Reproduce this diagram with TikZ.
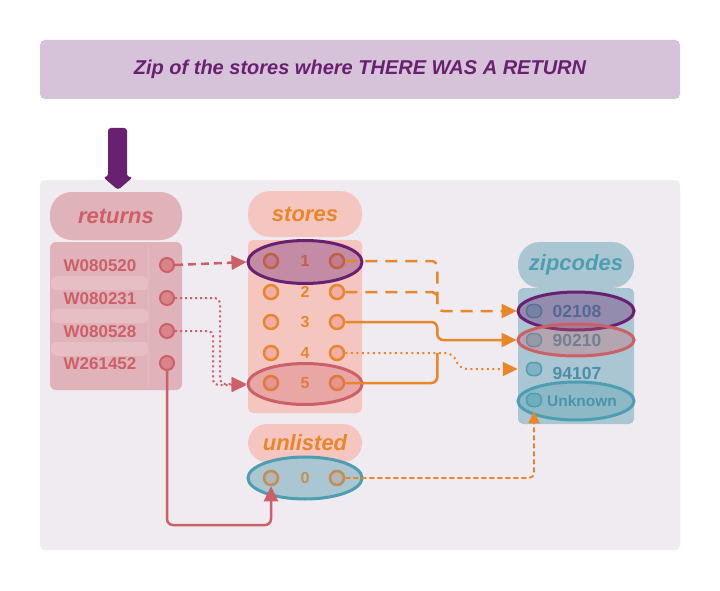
\documentclass[tikz,border=0pt]{standalone}
\usepackage{fontspec}
\setmainfont{Liberation Sans}
\usetikzlibrary{arrows.meta,shapes.geometric,calc}
\definecolor{purp}{HTML}{6A2070}
\definecolor{titlebg}{HTML}{D6C3D9}
\definecolor{panel}{HTML}{F0EAF1}
\definecolor{retbg}{HTML}{E0B2B9}
\definecolor{retband}{HTML}{E6BEC4}
\definecolor{red}{HTML}{CC5F68}
\definecolor{redfill}{HTML}{D9838B}
\definecolor{storebg}{HTML}{F5C6C0}
\definecolor{orng}{HTML}{E8862A}
\definecolor{storefill}{HTML}{F2ADA4}
\definecolor{zipbg}{HTML}{AAC6D2}
\definecolor{teal}{HTML}{4D9EB0}
\definecolor{ziptxt}{HTML}{4A8FA8}
\definecolor{zipfill}{HTML}{80B4C4}
\definecolor{tan}{HTML}{C09050}
\definecolor{grayfill}{HTML}{B4B6BC}
\tikzset{
  hdr/.style={rounded corners=22pt,inner sep=0pt},
  hdrtxt/.style={font=\fontsize{22}{22}\selectfont\bfseries\itshape},
  rdot/.style={circle,draw=red,fill=redfill,line width=2pt,minimum size=14pt,inner sep=0pt},
  sdot/.style={circle,draw=orng,fill=storefill,line width=2.5pt,minimum size=14pt,inner sep=0pt},
  udot/.style={circle,draw=tan,fill=grayfill,line width=2.5pt,minimum size=14pt,inner sep=0pt},
  zdot/.style={rounded corners=6pt,rectangle,draw=teal,fill=zipfill,line width=1.5pt,minimum width=15pt,minimum height=13pt,inner sep=0pt},
  rtxt/.style={text=red,font=\fontsize{17}{17}\selectfont\bfseries},
  stxt/.style={text=orng,font=\fontsize{16}{16}\selectfont\bfseries},
  ztxt/.style={text=ziptxt,font=\fontsize{17.5}{17.5}\selectfont\bfseries},
  sel/.style={ellipse,line width=3pt,minimum width=114pt,inner sep=0pt},
  tip/.style={-{Triangle[length=15pt,width=14pt]}},
  rdash/.style={draw=red,line width=2.5pt,dash pattern=on 8pt off 5pt},
  rdots/.style={draw=red,line width=2pt,dash pattern=on 2pt off 3pt,rounded corners=5pt},
  osolid/.style={draw=orng,line width=2.5pt,rounded corners=6pt},
  odash/.style={draw=orng,line width=2.5pt,dash pattern=on 12pt off 8pt,rounded corners=6pt},
  odots/.style={draw=orng,line width=2pt,dash pattern=on 2pt off 3.5pt,rounded corners=8pt},
}
\begin{document}
\begin{tikzpicture}[x=1pt,y=-1pt]
\useasboundingbox[fill=white] (0,0) rectangle (720,591);
% title
\node[fill=titlebg,rounded corners=5pt,minimum width=640pt,minimum height=59pt,inner sep=0pt,
  text=purp,font=\fontsize{20}{20}\selectfont\bfseries\itshape] (title) at (360,69.5)
  {Zip of the stores where THERE WAS A RETURN};
% panel
\node[fill=panel,rounded corners=5pt,minimum width=640pt,minimum height=370pt,inner sep=0pt] (panel) at (360,365) {};
% big arrow
\fill[purp,rounded corners=3pt] (108,128) -- (127,128) -- (127,177) -- (133,177) -- (118,190) -- (103,177) -- (108,177) -- cycle;
% returns
\node[hdr,fill=retbg,minimum width=132pt,minimum height=48pt,hdrtxt,text=red] (rethdr) at (116,216) {returns};
\node[fill=retbg,rounded corners=6pt,minimum width=132pt,minimum height=148pt,inner sep=0pt] (retbody) at (116,316) {};
\foreach \yy in {283,316,349}{\fill[retband,rounded corners=5pt] (51,\yy-7) rectangle (148,\yy+7);}
\draw[retband!70!retbg,line width=1pt] (148,243) -- (148,389);
\node[rtxt] (rt1) at (100,265.5) {W080520};
\node[rtxt] (rt2) at (100,298.5) {W080231};
\node[rtxt] (rt3) at (100,331.5) {W080528};
\node[rtxt] (rt4) at (100,364) {W261452};
\node[rdot] (r1) at (167,265) {};
\node[rdot] (r2) at (167,298) {};
\node[rdot] (r3) at (167,331) {};
\node[rdot] (r4) at (167,363) {};
% stores
\node[hdr,fill=storebg,minimum width=114pt,minimum height=46pt,hdrtxt,text=orng] (sthdr) at (305,214) {stores};
\node[fill=storebg,rounded corners=5pt,minimum width=114pt,minimum height=173pt,inner sep=0pt] (stbody) at (305,326.5) {};
\foreach \i/\yy in {1/261,2/292,3/322,4/353,5/383}{
  \node[sdot] (s\i l) at (271,\yy) {};
  \node[sdot] (s\i r) at (337,\yy) {};
  \node[stxt] (sn\i) at (305,\yy) {\i};
}
\node[sel,draw=purp,fill=purp,fill opacity=0.35,draw opacity=1,minimum height=43pt] (sel1) at (305,262) {};
\node[sel,draw=red,fill=red,fill opacity=0.3,draw opacity=1,minimum height=41pt] (sel5) at (305,384) {};
% unlisted
\node[hdr,fill=storebg,minimum width=114pt,minimum height=38pt,hdrtxt,text=orng,rounded corners=19pt] (unhdr) at (305,443) {unlisted};
\node[sel,draw=teal,fill=zipbg,minimum height=42pt] (sel0) at (305,478) {};
\node[udot] (u0l) at (271,478) {};
\node[udot] (u0r) at (337,478) {};
\node[text=tan,font=\fontsize{16}{16}\selectfont\bfseries] (un0) at (305,478) {0};
% zipcodes
\node[hdr,fill=zipbg,minimum width=116pt,minimum height=46pt,hdrtxt,text=teal] (zhdr) at (576,265) {zipcodes};
\node[fill=zipbg,rounded corners=5pt,minimum width=116pt,minimum height=136pt,inner sep=0pt] (zbody) at (576,356) {};
\node[ztxt] (zt1) at (577,311.5) {02108};
\node[ztxt] (zt2) at (577,340.5) {90210};
\node[ztxt] (zt3) at (577,373) {94107};
\node[ztxt,font=\fontsize{15.5}{15.5}\selectfont\bfseries] (zt4) at (582,401) {Unknown};
\node[zdot] (z1) at (534,311) {};
\node[zdot] (z2) at (534,340) {};
\node[zdot] (z3) at (534,369) {};
\node[zdot] (z4) at (534,400) {};
\node[sel,draw=purp,fill=purp,fill opacity=0.35,draw opacity=1,minimum width=116pt,minimum height=38pt] (zs1) at (576,311) {};
\node[sel,draw=red,fill=red,fill opacity=0.3,draw opacity=1,minimum width=116pt,minimum height=32pt] (zs2) at (576,340) {};
\node[sel,draw=teal,fill=teal,fill opacity=0.3,draw opacity=1,minimum width=116pt,minimum height=38pt] (zs4) at (576,401) {};
% connectors: returns -> stores
\draw[rdash,tip] (r1.east) -- (sel1.west);
\draw[rdots,tip] (r2.east) -- ++(45,0) |- (sel5.west);
\draw[rdots,tip] (r3.east) -- ++(38,0) |- ([yshift=-1pt]sel5.west);
\draw[draw=red,line width=2.5pt,rounded corners=6pt,tip] (r4.south) |- ($(u0l)+(0,47)$) -- (u0l.south);
% stores -> zipcodes
\draw[odash,tip] (s1r.east) -- ++(92,0) |- (zs1.west);
\draw[odash] (s2r.east) -- ++(92,0) -- ++(0,12);
\draw[osolid,tip] (s3r.east) -- ++(92,0) |- (zs2.west);
\draw[osolid] (s5r.east) -- ++(92,0) -- ++(0,-30);
\draw[odots,tip] (s4r.east) -- ++(108,0) -- ++(6,16) -- ($(z3.west)+(-8,0)$);
\draw[draw=orng,line width=1.8pt,dash pattern=on 5pt off 3pt,rounded corners=5pt,-{Triangle[length=12pt,width=11pt]}] (u0r.east) -| ($(z4.south)+(0,4)$);
\end{tikzpicture}
\end{document}
